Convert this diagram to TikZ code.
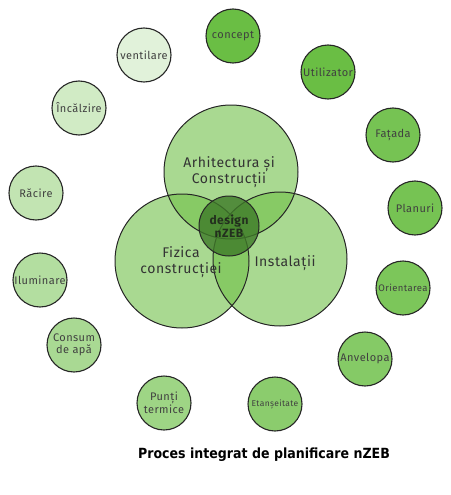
\documentclass[tikz,border=0pt]{standalone}
\usepackage{fontspec}
\setmainfont{Fira Sans}[LetterSpace=4]
\newfontfamily\titlefont{DejaVu Sans Condensed}
\usepackage{tikz}
\definecolor{gk}{RGB}{106,190,68}
\definecolor{gm}{RGB}{112,192,72}
\definecolor{gd}{RGB}{62,122,40}

\begin{document}
\begin{tikzpicture}[x=1pt,y=-1pt,
 s/.style={circle,draw=black!85,line width=1.1pt,minimum size=54pt,inner sep=0pt,align=center,text=black!75,font=\fontsize{11}{11.5}\selectfont},
 m/.style={circle,minimum size=134pt,fill=gm,fill opacity=0.6},
 t/.style={align=center,text=black!80,font=\fontsize{14}{15.5}\selectfont}]
\useasboundingbox (0,0) rectangle (450,495);
% outer ring of topics
\node[s,fill=gk](con) at (233,36){concept};
\node[s,fill=gk](uti) at (328,72){Utilizator};
\node[s,fill=gk!92!white](fat) at (393,135){Fațada};
\node[s,fill=gk!92!white](pla) at (415,208){Planuri};
\node[s,fill=gk!88!white,font=\fontsize{9.5}{10}\selectfont](ori) at (403,288){Orientarea};
\node[s,fill=gk!82!white](anv) at (365,359){Anvelopa};
\node[s,fill=gk!78!white,font=\fontsize{8.5}{9}\selectfont](eta) at (275,404){Etanșeitate};
\node[s,fill=gk!65!white](pun) at (164,403){Punți\\termice};
\node[s,fill=gk!58!white](cons) at (74,345){Consum\\de apă};
\node[s,fill=gk!51!white](ilu) at (40,280){Iluminare};
\node[s,fill=gk!41!white](rac) at (36,193){Răcire};
\node[s,fill=gk!31!white](inc) at (79,108){Încălzire};
\node[s,fill=gk!20!white](ven) at (144,55){ventilare};
% three main fields
\node[m](arh) at (231,172){};
\node[m](fiz) at (182,261){};
\node[m](ins) at (280,259){};
\foreach \c in {arh,fiz,ins} \draw[line width=1pt,black!85](\c) circle (67);
\node[t](arht) at (229,172){Arhitectura și\\Construcții};
\node[t](fizt) at (181,262){Fizica\\construcției};
\node[t](inst) at (285,263){Instalații};
\node[circle,minimum size=60pt,fill=gd,fill opacity=0.8,draw=black!85,line width=1pt,align=center,text=black!90,
 font=\bfseries\fontsize{12}{12.5}\selectfont](dz) at (229,226){design\\nZEB};
\node[font=\titlefont\bfseries\fontsize{14}{16}\selectfont](tit) at (264,455){Proces integrat de planificare nZEB};
\end{tikzpicture}
\end{document}
